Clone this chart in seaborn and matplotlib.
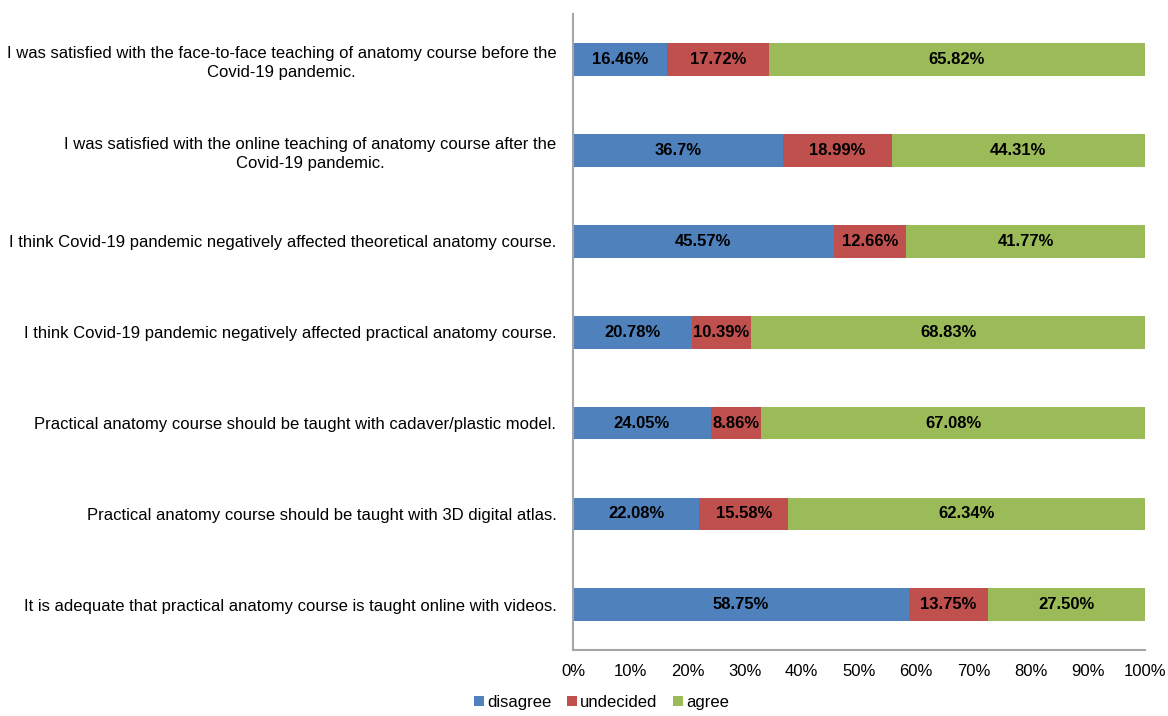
import pandas as pd
import seaborn as sns
import matplotlib.pyplot as plt

# Survey statements (top to bottom)
statements = [
    "I was satisfied with the face-to-face teaching of anatomy course before the\nCovid-19 pandemic.",
    "I was satisfied with the online teaching of anatomy course after the\nCovid-19 pandemic.",
    "I think Covid-19 pandemic negatively affected theoretical anatomy course.",
    "I think Covid-19 pandemic negatively affected practical anatomy course.",
    "Practical anatomy course should be taught with cadaver/plastic model.",
    "Practical anatomy course should be taught with 3D digital atlas.",
    "It is adequate that practical anatomy course is taught online with videos.",
]

disagree = [16.46, 36.7, 45.57, 20.78, 24.05, 22.08, 58.75]
undecided = [17.72, 18.99, 12.66, 10.39, 8.86, 15.58, 13.75]
agree = [65.82, 44.31, 41.77, 68.83, 67.08, 62.34, 27.50]

disagree_txt = ["16.46%", "36.7%", "45.57%", "20.78%", "24.05%", "22.08%", "58.75%"]
undecided_txt = ["17.72%", "18.99%", "12.66%", "10.39%", "8.86%", "15.58%", "13.75%"]
agree_txt = ["65.82%", "44.31%", "41.77%", "68.83%", "67.08%", "62.34%", "27.50%"]

colors = {"disagree": "#4F81BD", "undecided": "#C0504D", "agree": "#9BBB59"}

df = pd.DataFrame({"statement": statements, "disagree": disagree,
                   "undecided": undecided, "agree": agree})
df["cum1"] = df["disagree"]
df["cum2"] = df["disagree"] + df["undecided"]
df["cum3"] = df["cum2"] + df["agree"]

plt.rcParams["font.family"] = ["Liberation Sans", "DejaVu Sans"]

fig = plt.figure(figsize=(11.68, 7.16), dpi=100)
ax = fig.add_axes([0.4906, 0.092, 0.4897, 0.888])

# stacked bars: draw cumulative totals from the back to the front
for col, name in [("cum3", "agree"), ("cum2", "undecided"), ("cum1", "disagree")]:
    sns.barplot(data=df, x=col, y="statement", orient="h", color=colors[name],
                width=0.36, saturation=1, ax=ax, label=name)

# centered value labels
for i in range(len(statements)):
    starts = [0, df["cum1"][i], df["cum2"][i]]
    vals = [disagree[i], undecided[i], agree[i]]
    txts = [disagree_txt[i], undecided_txt[i], agree_txt[i]]
    for s, v, t in zip(starts, vals, txts):
        ax.text(s + v / 2, i, t, ha="center", va="center",
                fontsize=12, fontweight="bold", color="black")

ax.set_xlim(0, 100)
ax.set_ylim(6.5, -0.5)
ax.set_xticks(range(0, 101, 10))
ax.set_xticklabels([f"{t}%" for t in range(0, 101, 10)], fontsize=12)
ax.set_yticks(range(len(statements)))
ax.set_yticklabels(statements, fontsize=12, multialignment="center",
                   linespacing=1.35)
ax.set_xlabel("")
ax.set_ylabel("")
ax.tick_params(axis="both", length=0)
ax.tick_params(axis="y", pad=12)
ax.tick_params(axis="x", pad=10)

for side in ["top", "right"]:
    ax.spines[side].set_visible(False)
for side in ["left", "bottom"]:
    ax.spines[side].set_color("#A6A6A6")
    ax.spines[side].set_linewidth(1.5)

# legend in order disagree, undecided, agree
handles, labels = ax.get_legend_handles_labels()
order = [labels.index(n) for n in ["disagree", "undecided", "agree"]]
if ax.get_legend() is not None:
    ax.get_legend().remove()
fig.legend([handles[k] for k in order], [labels[k] for k in order],
           loc="lower center", bbox_to_anchor=(0.515, -0.008), ncol=3,
           frameon=False, fontsize=12, handlelength=0.6, handleheight=0.6,
           handletextpad=0.2, columnspacing=0.9, borderpad=0.2)

fig.savefig("out.png", dpi=100)
